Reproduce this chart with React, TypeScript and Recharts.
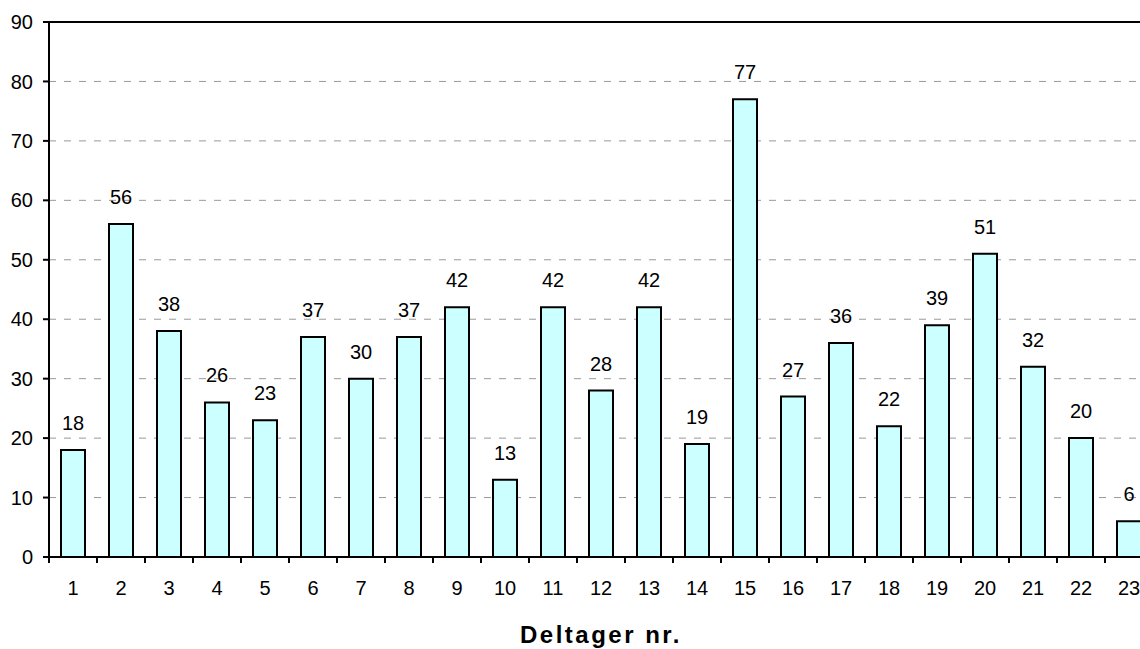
import {
  BarChart,
  Bar,
  XAxis,
  YAxis,
  CartesianGrid,
  LabelList,
  ReferenceLine,
} from 'recharts'

const participants = [
  '1', '2', '3', '4', '5', '6', '7', '8', '9', '10', '11', '12',
  '13', '14', '15', '16', '17', '18', '19', '20', '21', '22', '23',
]
const scores = [
  18, 56, 38, 26, 23, 37, 30, 37, 42, 13, 42, 28,
  42, 19, 77, 27, 36, 22, 39, 51, 32, 20, 6,
]
const yTicks = [0, 10, 20, 30, 40, 50, 60, 70, 80, 90]

const data = participants.map((p, i) => ({ label: p, value: scores[i] }))

const FONT = '"Liberation Sans", Arial, sans-serif'
const HALF_BAND = 24

// excel style: tick marks sit between categories, label in the middle
function CategoryTick(props: any) {
  const { x, y, payload } = props
  const axisY = y - 24
  return (
    <g>
      <line x1={x - HALF_BAND} y1={axisY} x2={x - HALF_BAND} y2={axisY + 6} stroke="#000" strokeWidth={2} />
      <text x={x} y={y} dy="0.71em" textAnchor="middle" fill="#000" fontSize={20} fontFamily={FONT}>
        {payload.value}
      </text>
    </g>
  )
}

export default function App() {
  return (
    <div
      style={{
        position: 'absolute',
        left: 0,
        top: 0,
        width: 1140,
        height: 649,
        overflow: 'hidden',
        background: '#fff',
      }}
    >
      <BarChart
        width={1160}
        height={649}
        data={data}
        margin={{ top: 22, right: 7, left: 0, bottom: 0 }}
        barSize={24}
        style={{ fontFamily: FONT }}
      >
        <CartesianGrid vertical={false} stroke="#999999" strokeDasharray="7 8" />
        <XAxis
          dataKey="label"
          height={92}
          axisLine={{ stroke: '#000', strokeWidth: 2 }}
          tickLine={false}
          tickSize={6}
          tickMargin={18}
          interval={0}
          tick={<CategoryTick />}
          label={{
            value: 'Deltager nr.',
            position: 'insideBottom',
            offset: 6,
            fill: '#000',
            fontSize: 24,
            fontWeight: 'bold',
            letterSpacing: 2.5,
            fontFamily: FONT,
          }}
        />
        <YAxis
          width={49}
          domain={[0, 90]}
          ticks={yTicks}
          interval={0}
          axisLine={{ stroke: '#000', strokeWidth: 2 }}
          tickLine={{ stroke: '#000', strokeWidth: 2 }}
          tickSize={6}
          tickMargin={10}
          tick={{ fill: '#000', fontSize: 20, fontFamily: FONT }}
        />
        <ReferenceLine y={90} stroke="#000" strokeWidth={2} />
        <Bar
          dataKey="value"
          fill="#CCFFFF"
          stroke="#000"
          strokeWidth={2}
          isAnimationActive={false}
        >
          <LabelList
            dataKey="value"
            position="top"
            offset={20}
            fill="#000"
            fontSize={20}
            fontFamily={FONT}
          />
        </Bar>
      </BarChart>
    </div>
  )
}
